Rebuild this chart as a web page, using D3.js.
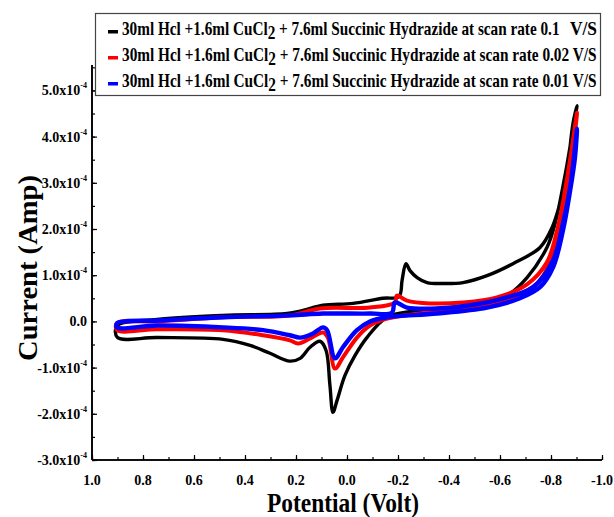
<!DOCTYPE html>
<html>
<head>
<meta charset="utf-8">
<script src="https://cdn.jsdelivr.net/npm/d3@7"></script>
<style>
  html, body { margin: 0; padding: 0; background: #fff; }
  svg { display: block; }
  text { font-family: "Liberation Serif", "Times New Roman", serif; font-weight: bold; }
</style>
</head>
<body>
<svg id="chart" width="614" height="517"></svg>
<script>
// Cyclic voltammograms: potential in V, current in units of 1e-4 A.
const blackPotential = [0.90, 0.745, 0.486, 0.380, 0.302, 0.224, 0.184, 0.145, 0.106, 0.082, 0.067, 0.055, 0.039, 0.008, -0.031, -0.078, -0.157, -0.286, -0.482, -0.627, -0.706, -0.784, -0.816, -0.855, -0.882, -0.902,
  -0.886, -0.863, -0.835, -0.804, -0.757, -0.651, -0.549, -0.455, -0.376, -0.314, -0.275, -0.247, -0.231, -0.216, -0.204, -0.141, -0.024, 0.094, 0.173, 0.235, 0.486, 0.745, 0.902];
const blackCurrent = [-0.35, -0.35, -0.39, -0.52, -0.69, -0.86, -0.80, -0.56, -0.43, -0.63, -1.38, -1.97, -1.71, -1.17, -0.74, -0.35, 0.09, 0.24, 0.35, 0.56, 0.95, 1.60, 2.12, 3.16, 4.02, 4.67,
  4.28, 3.26, 2.55, 2.03, 1.60, 1.25, 0.99, 0.84, 0.82, 0.84, 0.95, 1.10, 1.25, 0.89, 0.54, 0.50, 0.39, 0.35, 0.24, 0.17, 0.13, 0.04, -0.09];

const redPotential = [0.902, 0.745, 0.486, 0.329, 0.224, 0.192, 0.145, 0.094, 0.075, 0.047, 0.016, -0.039, -0.090, -0.157, -0.286, -0.482, -0.612, -0.706, -0.745, -0.796, -0.827, -0.847, -0.882, -0.902,
  -0.882, -0.855, -0.824, -0.784, -0.706, -0.588, -0.455, -0.325, -0.235, -0.196, -0.188, -0.090, 0.106, 0.224, 0.486, 0.745, 0.902];
const redCurrent = [-0.19, -0.17, -0.19, -0.30, -0.41, -0.48, -0.37, -0.24, -0.35, -1.02, -0.78, -0.35, -0.09, 0.06, 0.17, 0.30, 0.45, 0.67, 0.82, 1.25, 1.82, 2.46, 3.55, 4.52,
  3.76, 2.83, 1.97, 1.28, 0.80, 0.52, 0.41, 0.39, 0.45, 0.56, 0.41, 0.30, 0.28, 0.13, 0.09, 0.00, -0.04];

const bluePotential = [0.902, 0.745, 0.486, 0.329, 0.224, 0.184, 0.133, 0.094, 0.078, 0.047, 0.016, -0.039, -0.090, -0.157, -0.353, -0.549, -0.678, -0.757, -0.808, -0.847, -0.875, -0.894, -0.902,
  -0.894, -0.875, -0.847, -0.808, -0.729, -0.612, -0.482, -0.353, -0.235, -0.188, -0.176, -0.090, 0.094, 0.224, 0.486, 0.745, 0.902];
const blueCurrent = [-0.13, -0.09, -0.13, -0.19, -0.30, -0.35, -0.26, -0.13, -0.19, -0.80, -0.56, -0.19, 0.00, 0.09, 0.17, 0.30, 0.50, 0.74, 1.17, 1.97, 2.83, 3.55, 4.17,
  3.76, 2.90, 2.12, 1.32, 0.74, 0.50, 0.35, 0.28, 0.30, 0.41, 0.19, 0.17, 0.17, 0.13, 0.09, 0.02, -0.04];

const seriesNames = ["0.1", "0.02", "0.01"];
const seriesColors = ["#000000", "#ff0000", "#0000ff"];

const xTickValues = [1.0, 0.8, 0.6, 0.4, 0.2, 0.0, -0.2, -0.4, -0.6, -0.8, -1.0];
const xTickLabels = ["1.0", "0.8", "0.6", "0.4", "0.2", "0.0", "-0.2", "-0.4", "-0.6", "-0.8", "-1.0"];
const yTickValues = [-3, -2, -1, 0, 1, 2, 3, 4, 5];
const yTickLabels = ["-3.0", "-2.0", "-1.0", "0.0", "1.0", "2.0", "3.0", "4.0", "5.0"];

const svg = d3.select("#chart");
const plot = { left: 92, right: 602, top: 65, bottom: 460 };

const x = d3.scaleLinear().domain([1, -1]).range([plot.left, plot.right]);
const y = d3.scaleLinear().domain([-3, 5.55]).range([plot.bottom, plot.top]);

// squeeze a text horizontally to a given width (condensed bold serif look)
function fitWidth(sel, width) {
  const w = sel.node().getComputedTextLength();
  return width / w;
}

// axes with inward ticks
const xMinor = d3.range(-10, 11).map(d => d / 10);
const yMinor = d3.range(-6, 12).map(d => d / 2);

const gx = svg.append("g").attr("transform", `translate(0,${plot.bottom})`);
gx.call(d3.axisBottom(x).tickValues(xMinor).tickSize(-3).tickFormat(""));
gx.call(g => g.append("g").call(d3.axisBottom(x).tickValues(xTickValues).tickSize(-5).tickFormat("")));
gx.selectAll(".domain").attr("stroke", "#000").attr("stroke-width", 1.6).attr("d", `M${plot.left},0H${plot.right}`);
gx.selectAll(".tick line").attr("stroke", "#000").attr("stroke-width", 1.2);

const gy = svg.append("g").attr("transform", `translate(${plot.left},0)`);
gy.call(d3.axisLeft(y).tickValues(yMinor).tickSize(-3).tickFormat(""));
gy.call(g => g.append("g").call(d3.axisLeft(y).tickValues(yTickValues).tickSize(-5).tickFormat("")));
gy.selectAll(".domain").attr("stroke", "#000").attr("stroke-width", 1.6).attr("d", `M0,${plot.top}V${plot.bottom}`);
gy.selectAll(".tick line").attr("stroke", "#000").attr("stroke-width", 1.2);

// tick labels
svg.append("g").selectAll("text").data(xTickValues).join("text")
  .attr("x", d => x(d))
  .attr("y", 485)
  .attr("text-anchor", "middle")
  .attr("font-size", 14)
  .text((d, i) => xTickLabels[i]);

const yl = svg.append("g").selectAll("text").data(yTickValues).join("text")
  .attr("x", 87)
  .attr("y", d => y(d) + 5)
  .attr("text-anchor", "end")
  .attr("font-size", 14);
yl.each(function(d, i) {
  const t = d3.select(this);
  if (d === 0) { t.text(yTickLabels[i]); return; }
  t.append("tspan").text(yTickLabels[i] + "x10");
  t.append("tspan").attr("font-size", 8).attr("dy", -7).text("-4");
});

// axis titles
const xTitle = svg.append("text")
  .attr("text-anchor", "middle")
  .attr("font-size", 27)
  .text("Potential (Volt)");
xTitle.attr("transform", `translate(343,512) scale(${fitWidth(xTitle, 152)},1)`);

const yTitle = svg.append("text")
  .attr("text-anchor", "middle")
  .attr("font-size", 28)
  .text("Current (Amp)");
yTitle.attr("transform", `translate(37,268) rotate(-90) scale(${fitWidth(yTitle, 186)},1)`);

// curves
const line = d3.line()
  .x(d => x(d[0]))
  .y(d => y(d[1]))
  .curve(d3.curveCatmullRomClosed.alpha(0.5));

const curves = [
  { V: blackPotential, I: blackCurrent, w: 3.4 },
  { V: redPotential, I: redCurrent, w: 4 },
  { V: bluePotential, I: blueCurrent, w: 4.4 }
];
svg.append("g").selectAll("path").data(curves).join("path")
  .attr("d", c => line(c.V.map((v, i) => [v, c.I[i]])))
  .attr("fill", "none")
  .attr("stroke", (c, i) => seriesColors[i])
  .attr("stroke-width", c => c.w)
  .attr("stroke-linejoin", "round");

// legend
const legend = svg.append("g");
legend.append("rect")
  .attr("x", 95.5).attr("y", 13.5).attr("width", 505).attr("height", 82)
  .attr("fill", "#fff").attr("stroke", "#444").attr("stroke-width", 1.2);

const rowBase = [35, 61, 87];
seriesNames.forEach((rate, i) => {
  legend.append("rect")
    .attr("x", 108).attr("y", rowBase[i] - 5).attr("width", 10).attr("height", 3.5)
    .attr("fill", seriesColors[i]);
  const t = legend.append("text").attr("font-size", 18);
  t.append("tspan").text("30ml Hcl +1.6ml CuCl");
  t.append("tspan").attr("dy", 4).text("2");
  if (i === 0) {
    t.append("tspan").attr("dy", -4).text(" + 7.6ml Succinic Hydrazide at scan rate " + rate);
    t.attr("transform", `translate(122,${rowBase[i]}) scale(${fitWidth(t, 438)},1)`);
    const u = legend.append("text")
      .attr("text-anchor", "end")
      .attr("font-size", 18)
      .text("V/S");
    u.attr("transform", `translate(597,${rowBase[i]}) scale(${fitWidth(u, 27)},1)`);
  } else {
    t.append("tspan").attr("dy", -4).text(" + 7.6ml Succinic Hydrazide at scan rate " + rate + " V/S");
    t.attr("transform", `translate(122,${rowBase[i]}) scale(${fitWidth(t, 475)},1)`);
  }
});
</script>
</body>
</html>
